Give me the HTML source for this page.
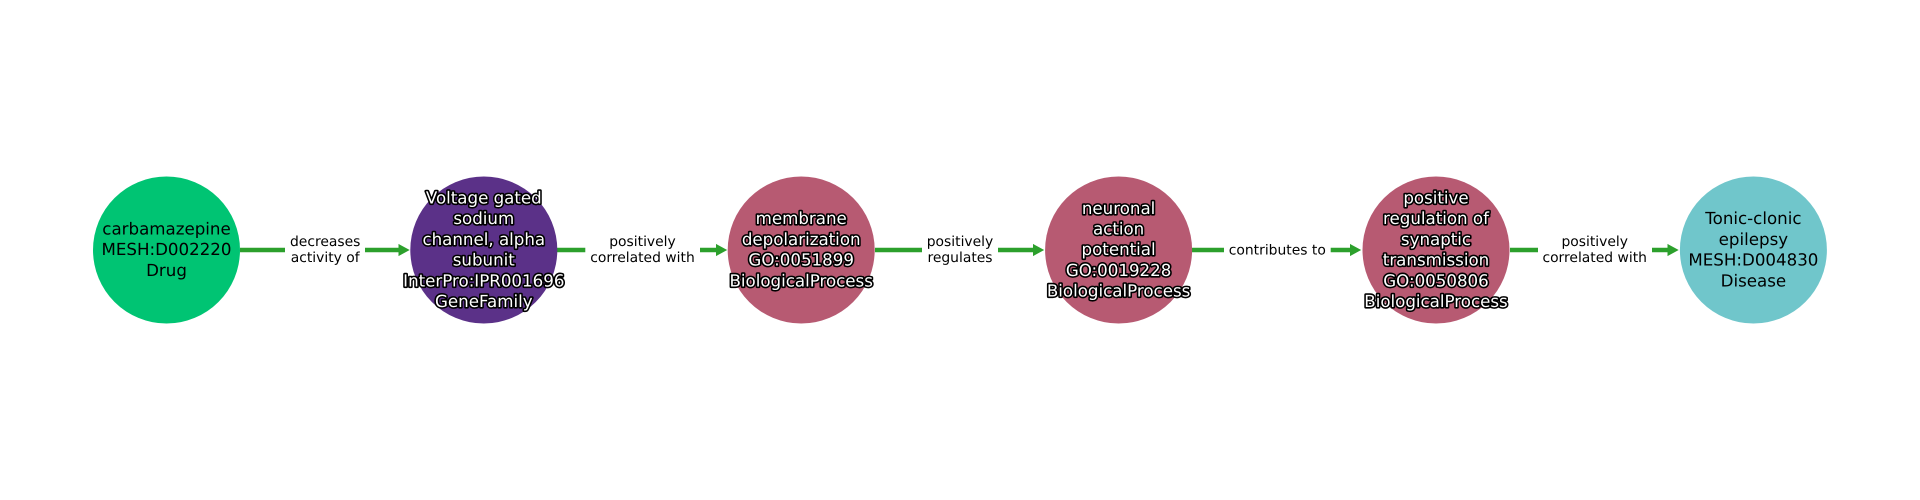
<!DOCTYPE html>
<html>
<head>
<meta charset="utf-8">
<style>
html,body{margin:0;padding:0;background:#fff;width:1920px;height:500px;overflow:hidden}
svg{display:block}
text{font-family:"DejaVu Sans","Liberation Sans",sans-serif;text-anchor:middle;text-rendering:geometricPrecision}
.n{font-size:16.67px;fill:#000}
.h{font-size:16.67px;fill:#fff;stroke:#000;stroke-width:3.2px;paint-order:stroke;stroke-linejoin:round}
.e{font-size:13.89px;fill:#000}
.l{stroke:#2ca02c;stroke-width:4.4;fill:none}
.a{fill:#2ca02c;stroke:#2ca02c;stroke-width:2;stroke-linejoin:miter}
</style>
</head>
<body>
<svg width="1920" height="500" viewBox="0 0 1920 500" xmlns="http://www.w3.org/2000/svg">
<rect width="1920" height="500" fill="#fff"/>

<path class="l" d="M240 250H285M365 250H402"/>
<path class="a" d="M399.5 245.6L407.6 250L399.5 254.4Z"/>
<path class="l" d="M557 250H585.3M700 250H719"/>
<path class="a" d="M717 245.6L725.1 250L717 254.4Z"/>
<path class="l" d="M875 250H922M998 250H1036"/>
<path class="a" d="M1034 245.6L1042.1 250L1034 254.4Z"/>
<path class="l" d="M1192 250H1224M1330.7 250H1353"/>
<path class="a" d="M1351 245.6L1359.1 250L1351 254.4Z"/>
<path class="l" d="M1510 250H1538M1652 250H1671"/>
<path class="a" d="M1668.5 245.6L1676.6 250L1668.5 254.4Z"/>

<circle cx="166.5" cy="250" r="73.5" fill="#00c473"/>
<circle cx="483.8" cy="250" r="73.5" fill="#5b3188"/>
<circle cx="801.2" cy="250" r="73.5" fill="#b75a72"/>
<circle cx="1118.6" cy="250" r="73.5" fill="#b75a72"/>
<circle cx="1436" cy="250" r="73.5" fill="#b75a72"/>
<circle cx="1753.4" cy="250" r="73.5" fill="#70c6cb"/>

<text class="n" x="166.5" y="234.5">carbamazepine</text>
<text class="n" x="166.5" y="255.2">MESH:D002220</text>
<text class="n" x="166.5" y="275.9">Drug</text>

<text class="h" x="483.8" y="203.5">Voltage gated</text>
<text class="h" x="483.8" y="224.2">sodium</text>
<text class="h" x="483.8" y="244.9">channel, alpha</text>
<text class="h" x="483.8" y="265.6">subunit</text>
<text class="h" x="483.8" y="286.3">InterPro:IPR001696</text>
<text class="h" x="483.8" y="307">GeneFamily</text>

<text class="h" x="801.2" y="224.2">membrane</text>
<text class="h" x="801.2" y="244.9">depolarization</text>
<text class="h" x="801.2" y="265.6">GO:0051899</text>
<text class="h" x="801.2" y="286.3">BiologicalProcess</text>

<text class="h" x="1118.6" y="213.8">neuronal</text>
<text class="h" x="1118.6" y="234.5">action</text>
<text class="h" x="1118.6" y="255.2">potential</text>
<text class="h" x="1118.6" y="275.9">GO:0019228</text>
<text class="h" x="1118.6" y="296.6">BiologicalProcess</text>

<text class="h" x="1436" y="203.5">positive</text>
<text class="h" x="1436" y="224.2">regulation of</text>
<text class="h" x="1436" y="244.9">synaptic</text>
<text class="h" x="1436" y="265.6">transmission</text>
<text class="h" x="1436" y="286.3">GO:0050806</text>
<text class="h" x="1436" y="307">BiologicalProcess</text>

<text class="n" x="1753.4" y="224.2">Tonic-clonic</text>
<text class="n" x="1753.4" y="244.9">epilepsy</text>
<text class="n" x="1753.4" y="265.6">MESH:D004830</text>
<text class="n" x="1753.4" y="286.3">Disease</text>

<text class="e" x="325.2" y="246">decreases</text>
<text class="e" x="325.2" y="262">activity of</text>
<text class="e" x="642.5" y="246">positively</text>
<text class="e" x="642.5" y="262">correlated with</text>
<text class="e" x="960" y="246">positively</text>
<text class="e" x="960" y="262">regulates</text>
<text class="e" x="1277.3" y="254.5">contributes to</text>
<text class="e" x="1594.7" y="246">positively</text>
<text class="e" x="1594.7" y="262">correlated with</text>
</svg>
</body>
</html>
